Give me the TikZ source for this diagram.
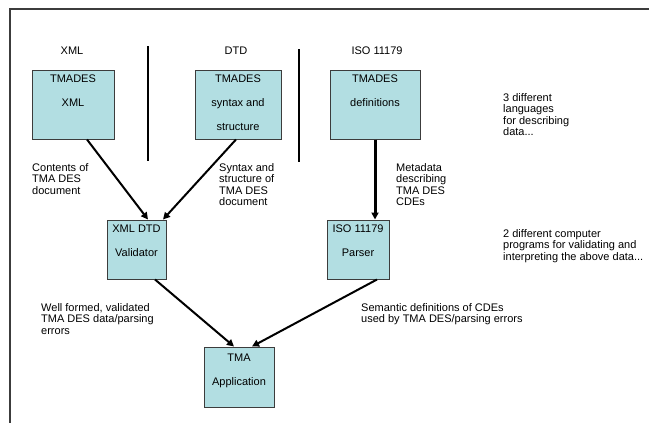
\documentclass[tikz,border=0pt]{standalone}
\usepackage{fontspec}
\setmainfont{Liberation Sans}
\usetikzlibrary{arrows.meta}
\usetikzlibrary{positioning}
\definecolor{boxcyan}{RGB}{178,222,226}
\definecolor{framegray}{RGB}{60,60,60}

\begin{document}
\begin{tikzpicture}[x=1pt,y=-1pt]
\tikzset{tmbox/.style={fill=boxcyan,draw=framegray,line width=1pt,inner sep=0pt},
  boxtext/.style={align=center,inner sep=0pt,anchor=north,font=\fontsize{11}{24}\selectfont},
  note/.style={align=left,inner sep=0pt,anchor=north west,font=\fontsize{11}{11.5}\selectfont},
  head/.style={inner sep=0pt,font=\fontsize{11}{11.5}\selectfont},
  flow/.style={line width=2pt,-{Triangle[length=7pt,width=7pt]}}}
\def\sepwidth{2pt}
\useasboundingbox (0,0) rectangle (649,423);
\draw[framegray,line width=1.2pt] (10,423) -- (10,9) -- (649,9);

\node[head] (xmlhead) at (72,51) {XML};
\node[head] (dtdhead) at (236,51) {DTD};
\node[head] (isohead) at (377,51) {ISO 11179};
\draw[line width=\sepwidth] (148,46) -- (148,161);
\draw[line width=\sepwidth] (299,49) -- (299,162);

\node[tmbox,minimum width=82pt,minimum height=69pt] (xmlbox) at (73,104.5) {};
\node[tmbox,minimum width=86pt,minimum height=69pt] (dtdbox) at (238,104.5) {};
\node[tmbox,minimum width=90pt,minimum height=69pt] (isobox) at (375,104.5) {};
\node[tmbox,minimum width=59pt,minimum height=59pt] (valbox) at (136.5,249.5) {};
\node[tmbox,minimum width=62pt,minimum height=59pt] (parbox) at (358,249.5) {};
\node[tmbox,minimum width=70pt,minimum height=60pt] (tmabox) at (239,377) {};

\node[boxtext,below=5pt of xmlbox.north] (xmltext) {TMADES\\XML};
\node[boxtext,below=5pt of dtdbox.north] (dtdtext) {TMADES\\syntax and\\structure};
\node[boxtext,below=5pt of isobox.north] (isotext) {TMADES\\definitions};
\node[boxtext,below=5pt of valbox.north] (valtext) {XML DTD\\Validator};
\node[boxtext,below=5pt of parbox.north] (partext) {ISO 11179\\Parser};
\node[boxtext,below=7pt of tmabox.north] (tmatext) {TMA\\Application};

\node[note] (contnote) at (32,163) {Contents of\\TMA DES\\document};
\node[note] (syntnote) at (219,163) {Syntax and\\structure of\\TMA DES\\document};
\node[note] (metanote) at (396,163) {Metadata\\describing\\TMA DES\\CDEs};
\node[note] (langnote) at (503,93) {3 different\\languages\\for describing\\data...};
\node[note] (prognote) at (503,229) {2 different computer\\programs for validating and\\interpreting the above data...};
\node[note] (wellnote) at (41,303) {Well formed, validated\\TMA DES data/parsing\\errors};
\node[note] (semnote) at (361,303) {Semantic definitions of CDEs\\used by TMA DES/parsing errors};

\draw[flow] ([xshift=14pt]xmlbox.south) -- ([xshift=11.5pt]valbox.north);
\draw[flow] ([xshift=-2pt]dtdbox.south) -- ([xshift=26.5pt]valbox.north);
\draw[flow,line width=3pt] (isobox.south) -- (isobox.south |- parbox.north);
\draw[flow] ([xshift=18.5pt]valbox.south) -- ([xshift=-5pt]tmabox.north);
\draw[flow] ([xshift=19pt]parbox.south) -- ([xshift=13pt]tmabox.north);
\end{tikzpicture}
\end{document}
